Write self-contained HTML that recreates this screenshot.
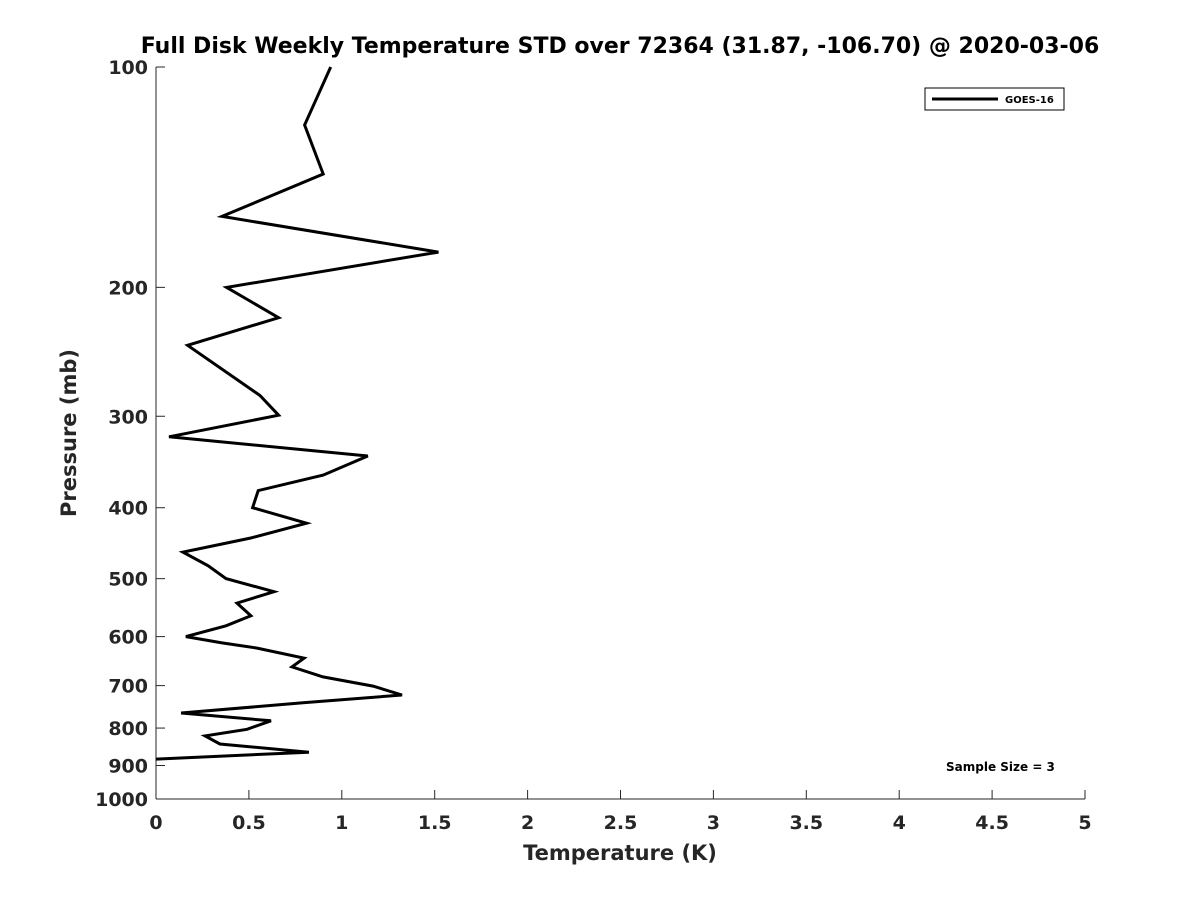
<!DOCTYPE html>
<html><head><meta charset="utf-8"><style>
body{margin:0;background:#fff;}
svg{display:block;font-family:"DejaVu Sans","Liberation Sans",sans-serif;}
</style></head><body>
<svg id="chart" width="1200" height="900">
<rect width="1200" height="900" fill="#fff"/>
<text x="620" y="53" text-anchor="middle" font-size="22" font-weight="bold" fill="#000">Full Disk Weekly Temperature STD over 72364 (31.87, -106.70) @ 2020-03-06</text>
<g id="axes"></g>
<text x="620" y="860" text-anchor="middle" font-size="21" font-weight="bold" fill="#262626">Temperature (K)</text>
<text transform="translate(76,433) rotate(-90)" text-anchor="middle" font-size="21" font-weight="bold" fill="#262626">Pressure (mb)</text>
<g>
<rect x="925" y="88" width="139" height="22" fill="#fff" stroke="#000" stroke-width="1"/>
<line x1="932" y1="99" x2="998" y2="99" stroke="#000" stroke-width="3"/>
<text x="1005" y="103" font-size="10" font-weight="bold">GOES-16</text>
</g>
<text x="946" y="771" font-size="12" font-weight="bold">Sample Size = 3</text>
</svg>
<script>
const pressures=[100,120,140,160,179,200,220,240,281,299,320,340,361,379,400,420,440,460,480,500,521,540,562,580,600,612,622,642,660,681,701,721,739,763,782,803,820,841,863,882];
const stdValues=[0.94,0.80,0.90,0.355,1.52,0.38,0.66,0.17,0.56,0.66,0.07,1.14,0.90,0.55,0.52,0.81,0.51,0.145,0.28,0.377,0.635,0.436,0.511,0.377,0.161,0.355,0.544,0.797,0.732,0.899,1.168,1.324,0.791,0.135,0.619,0.49,0.264,0.344,0.823,0.0];
const xTicks=[0,0.5,1,1.5,2,2.5,3,3.5,4,4.5,5];
const yTicks=[100,200,300,400,500,600,700,800,900,1000];
const NS="http://www.w3.org/2000/svg";
const X0=156,X1=1085,Y0=67,Y1=799;
const xs=v=>X0+(v/5)*(X1-X0);
const ys=p=>Y0+Math.log10(p/100)*(Y1-Y0);
const g=document.getElementById('axes');
function mk(t,a){const e=document.createElementNS(NS,t);for(const k in a)e.setAttribute(k,a[k]);return e;}
const yAxis=mk('line',{x1:X0,y1:Y0,x2:X0,y2:Y1,stroke:'#262626','stroke-width':1});


g.appendChild(yAxis);
const xAxis=mk('line',{x1:X0,y1:Y1,x2:X1,y2:Y1,stroke:'#262626','stroke-width':1});


g.appendChild(xAxis);
xTicks.forEach(v=>{
 const x=xs(v);
 g.appendChild(mk('line',{x1:x,y1:Y1,x2:x,y2:Y1-9,stroke:'#262626'}));
 const t=mk('text',{x:x,y:Y1+30,'text-anchor':'middle','font-size':19,'font-weight':'bold',fill:'#262626'});
 t.textContent=v;
 
 
 g.appendChild(t);
});
yTicks.forEach(p=>{
 const y=ys(p);
 g.appendChild(mk('line',{x1:X0,y1:y,x2:X0+9,y2:y,stroke:'#262626'}));
 const t=mk('text',{x:X0-8,y:y+7,'text-anchor':'end','font-size':19,'font-weight':'bold',fill:'#262626'});
 t.textContent=p;
 
 
 g.appendChild(t);
});
const pts=pressures.map((p,i)=>xs(stdValues[i]).toFixed(1)+','+ys(p).toFixed(1)).join(' ');
const line=mk('polyline',{points:pts,fill:'none',stroke:'#000','stroke-width':3,'stroke-linejoin':'miter'});


g.appendChild(line);
</script>
</body></html>
